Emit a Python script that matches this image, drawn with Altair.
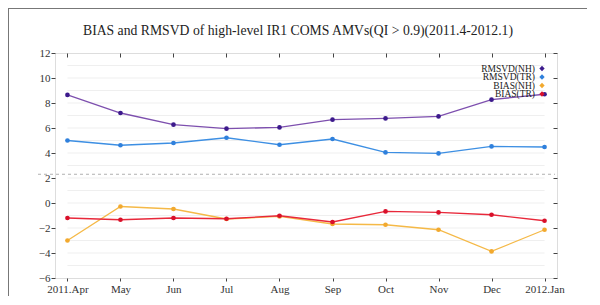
import altair as alt
import pandas as pd

months = ["2011.Apr", "May", "Jun", "Jul", "Aug", "Sep", "Oct", "Nov", "Dec", "2012.Jan"]
rmsvd_nh = [8.65, 7.2, 6.27, 5.95, 6.05, 6.67, 6.77, 6.93, 8.27, 8.7]
rmsvd_tr = [5.0, 4.62, 4.8, 5.22, 4.66, 5.12, 4.05, 3.97, 4.53, 4.48]
bias_nh = [-3.0, -0.28, -0.48, -1.28, -1.07, -1.68, -1.74, -2.14, -3.87, -2.14]
bias_tr = [-1.2, -1.34, -1.2, -1.26, -1.02, -1.52, -0.67, -0.75, -0.94, -1.42]

series_names = ["RMSVD(NH)", "RMSVD(TR)", "BIAS(NH)", "BIAS(TR)"]
line_colors = ["#7d4fae", "#3d8fe3", "#f5b947", "#e8283a"]
marker_colors = ["#3c1a8c", "#2f80dc", "#f2a92e", "#d9102a"]
grid_levels = list(range(-5, 12))
ref_level = 2.3
title_text = "BIAS and RMSVD of high-level IR1 COMS AMVs(QI > 0.9)(2011.4-2012.1)"

SERIF = "Liberation Serif"
W, H = 502, 225

rows = []
for name, vals in zip(series_names, [rmsvd_nh, rmsvd_tr, bias_nh, bias_tr]):
    for i, v in enumerate(vals):
        rows.append({"series": name, "idx": i, "value": v})
df = pd.DataFrame(rows)

label_expr = "[" + ",".join("'%s'" % m for m in months) + "][datum.value]"
xscale = alt.Scale(domain=[-0.235, len(months) - 1 + 0.235], nice=False, zero=False)
yscale = alt.Scale(domain=[-6, 12], nice=False, zero=False)

# grid rules (also carries top x axis and left y axis)
grid_df = pd.DataFrame({"lvl": grid_levels, "x0": 0, "x1": len(months) - 1})
grid = alt.Chart(grid_df).mark_rule(color="#efefef", strokeWidth=1).encode(
    x=alt.X("x0:Q", scale=xscale,
            axis=alt.Axis(orient="top", values=list(range(len(months))), labels=False,
                          tickSize=4, offset=-4, domain=False, grid=False, title=None,
                          tickColor="#444")),
    x2="x1:Q",
    y=alt.Y("lvl:Q", scale=yscale,
            axis=alt.Axis(orient="left", values=list(range(-6, 13, 2)), tickSize=4,
                          labelPadding=1, domain=False, grid=False, title=None,
                          labelFont=SERIF, labelFontSize=11, labelColor="#333",
                          tickColor="#444")),
)

dashed = alt.Chart(pd.DataFrame({"y": [ref_level]})).mark_rule(
    color="#b0b0b0", strokeDash=[3, 3], strokeWidth=1
).encode(x=alt.value(-17), x2=alt.value(W - 2), y=alt.Y("y:Q", scale=yscale, axis=None))

layers = [grid, dashed]
draw_order = [2, 3, 1, 0]
for k in draw_order:
    name = series_names[k]
    sub = df[df.series == name]
    if k == 0:
        xax = alt.Axis(orient="bottom", values=list(range(len(months))), labelExpr=label_expr,
                       tickSize=3, labelPadding=2, domain=False, grid=False, title=None,
                       labelFont=SERIF, labelFontSize=11, labelColor="#333", tickColor="#444")
        yax = alt.Axis(orient="right", values=list(range(-6, 13, 2)), labels=False, tickSize=4,
                       offset=-4, domain=False, grid=False, title=None, tickColor="#444")
    else:
        xax = None
        yax = None
    layers.append(
        alt.Chart(sub).mark_line(
            color=line_colors[k], strokeWidth=1.3,
            point=alt.OverlayMarkDef(filled=True, size=22, color=marker_colors[k], opacity=1),
        ).encode(
            x=alt.X("idx:Q", scale=xscale, axis=xax),
            y=alt.Y("value:Q", scale=yscale, axis=yax),
        )
    )

# legend (text entries top right)
for i, name in enumerate(series_names):
    ldf = pd.DataFrame({"t": [name]})
    layers.append(
        alt.Chart(ldf).mark_text(align="right", baseline="middle", font=SERIF, fontSize=9.5,
                                 color="#222").encode(
            x=alt.value(480), y=alt.value(15.5 + 8.5 * i), text="t:N")
    )
    layers.append(
        alt.Chart(ldf).mark_point(shape="diamond", filled=True, size=28, opacity=1,
                                  color=marker_colors[i]).encode(
            x=alt.value(487), y=alt.value(15.5 + 8.5 * i))
    )

# title as text
layers.append(
    alt.Chart(pd.DataFrame({"t": [title_text]})).mark_text(
        align="center", baseline="middle", font=SERIF, fontSize=13.7, color="#222"
    ).encode(x=alt.value(243), y=alt.value(-22), text="t:N")
)

# outer figure border (left and top)
border_df = pd.DataFrame({"a": [0]})
layers.append(alt.Chart(border_df).mark_rule(color="#777", strokeWidth=1).encode(
    x=alt.value(-46.5), y=alt.value(-45), y2=alt.value(250)))
layers.append(alt.Chart(border_df).mark_rule(color="#777", strokeWidth=1).encode(
    x=alt.value(-47), x2=alt.value(W + 35), y=alt.value(-44.5)))

chart = alt.layer(*layers).properties(
    width=W, height=H,
    autosize=alt.AutoSizeParams(type="none"),
    padding={"left": 47, "top": 45, "right": 30, "bottom": 18},
).configure_view(stroke="#333", strokeWidth=1.2).configure(background="white")

chart.save("out.html", embed_options={"renderer": "svg", "actions": False})
